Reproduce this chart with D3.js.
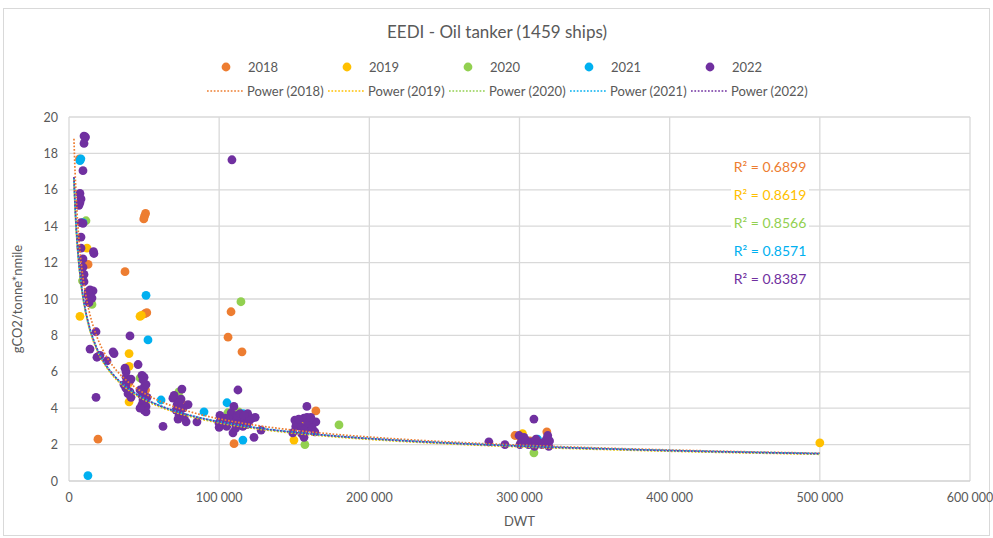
<!DOCTYPE html>
<html>
<head>
<meta charset="utf-8">
<script src="https://cdnjs.cloudflare.com/ajax/libs/d3/7.8.5/d3.min.js"></script>
<style>
  body { margin: 0; background: #fff; }
  svg text { font-family: Lato, "Open Sans", sans-serif; fill: #595959; }
</style>
</head>
<body>
<div id="chart"></div>
<script>
const years = ["2018", "2019", "2020", "2021", "2022"];
const colors = ["#ED7D31", "#FFC000", "#92D050", "#00B0F0", "#7030A0"];
const rSquared = ["0.6899", "0.8619", "0.8566", "0.8571", "0.8387"];
// power trendline y = a * x^b
const trendA = [1080, 830, 820, 800, 816];
const trendB = [-0.5, -0.483, -0.481, -0.478, -0.48];
const trendRange = [3300, 500000];
const xTicks = [0, 100000, 200000, 300000, 400000, 500000, 600000];
const yTicks = [0, 2, 4, 6, 8, 10, 12, 14, 16, 18, 20];

// [DWT, EEDI]
const s2018 = [[51000,14.7],[50300,14.55],[49800,14.4],[37300,11.5],[12700,11.9],[50600,9.2],[51800,9.25],
  [107900,9.3],[105900,7.9],[115200,7.1],[19300,2.3],[109900,2.05],[164400,3.85],[297000,2.5],[318200,2.7],
  [7000,17.7],[300500,2.4],[51000,5.0],[40000,5.4],[75000,4.3],[110000,3.6],[155000,3.0],[307000,2.2]];
const s2019 = [[7300,9.05],[12000,12.8],[47300,9.05],[48200,9.1],[40000,7.0],[40000,6.3],[40000,4.35],
  [302000,2.6],[149800,2.25],[500000,2.1],[39000,5.3],[74000,3.5],[112000,3.2],[310000,2.2],[158000,3.3]];
const s2020 = [[114500,9.85],[11300,14.3],[15300,9.7],[179800,3.08],[157100,2.0],[309600,1.55],[73200,4.9],
  [74000,4.55],[47300,5.66],[105800,3.75],[113000,3.8],[301000,2.1],[9000,11.0]];
const s2021 = [[7300,17.6],[7900,17.7],[9300,14.2],[51300,10.2],[52600,7.75],[12600,0.3],[61300,4.45],
  [89900,3.8],[105200,4.3],[115800,2.25],[116000,3.7],[312000,2.3],[160000,3.1],[73000,4.0]];
const s2022 = [[10000,18.95],[11000,18.9],[10000,18.55],[9300,17.05],[7300,15.8],[8000,15.5],[7300,15.3],
  [6600,15.15],[8000,14.2],[9300,14.15],[8000,13.4],[8000,12.8],[16600,12.5],[16300,12.6],[9300,12.2],
  [9300,11.75],[10000,11.35],[10000,10.95],[14000,10.5],[16000,10.45],[12600,10.2],[15300,10.05],[12700,10.4],
  [13300,9.8],[18000,8.2],[14000,7.25],[18600,6.8],[20600,6.9],[30000,7.0],[29300,7.1],[25300,6.6],[18000,4.6],
  [40600,7.97],[46000,6.4],
  [37300,6.2],[38000,5.7],[38600,5.4],[37900,5.1],[39300,4.8],[40000,5.5],[41300,5.6],[40600,4.9],[41300,4.6],
  [36600,5.3],[38000,6.0],
  [48600,4.7],[49300,4.45],[48600,4.2],[50000,3.9],[49300,5.55],[50000,5.15],[50000,5.7],[51300,3.8],[51300,4.1],
  [49300,4.95],[51300,5.3],[48600,5.8],[50600,4.3],[47300,5.0],[47300,4.0],[52000,4.6],
  [62600,3.0],
  [75200,5.05],[69200,4.55],[72000,4.2],[74000,3.9],[73300,3.6],[72600,3.4],[78000,3.25],[79300,4.2],[70000,4.7],
  [74600,4.5],[76000,4.0],[73300,4.3],[71300,3.9],[76600,3.5],
  [85200,3.25],[100500,3.6],[99800,3.2],[100000,2.95],
  [112500,5.0],[109800,4.1],[107900,3.5],[111900,3.35],[115200,3.5],[115800,3.0],[109200,2.65],[118500,3.1],
  [121900,3.45],[123200,2.4],[127900,2.8],[102600,3.2],[105000,3.0],[108000,3.75],[110000,3.2],[112000,3.6],
  [114000,3.7],[117000,3.3],[119000,3.7],[106000,3.4],[111000,2.9],[113500,3.1],[116500,3.6],[108500,17.65],
  [104000,3.45],[120000,3.3],[124000,3.5],
  [158400,4.1],[150400,3.35],[151000,3.0],[149000,2.65],[156500,3.45],[158500,3.5],[155000,2.95],[156500,2.4],
  [164400,3.25],[163700,2.7],[152000,3.2],[160000,3.0],[157000,2.8],[153000,3.4],[159000,3.2],[161000,3.5],
  [155000,2.6],[162000,2.9],
  [309600,3.4],[279600,2.15],[290300,2.0],[299700,2.5],[300300,2.0],[308300,2.15],[313500,2.1],[316800,2.15],
  [319500,1.9],[318800,2.5],[304300,2.25],[302000,2.3],[306000,2.0],[311000,2.3],[315000,2.0],[320000,2.2],
  [301000,2.1],[310000,1.9],[318000,2.3],[303000,2.4]];
const series = [s2018, s2019, s2020, s2021, s2022];

const W = 993, H = 538;
const svg = d3.select("#chart").append("svg").attr("width", W).attr("height", H);

svg.append("rect")
  .attr("x", 3.5).attr("y", 8.5).attr("width", 986).attr("height", 527)
  .attr("fill", "#fff").attr("stroke", "#D9D9D9");

const x = d3.scaleLinear().domain([0, 600000]).range([69, 970]);
const y = d3.scaleLinear().domain([0, 20]).range([481, 117]);
const fmt = d => d3.format(",")(d).replace(/,/g, " ");

// gridlines
svg.append("g").selectAll("line").data(yTicks.slice(1)).enter().append("line")
  .attr("x1", x(0)).attr("x2", x(600000))
  .attr("y1", d => y(d)).attr("y2", d => y(d))
  .attr("stroke", "#D9D9D9").attr("stroke-width", 1.3);
svg.append("g").selectAll("line").data(xTicks.slice(1)).enter().append("line")
  .attr("x1", d => x(d)).attr("x2", d => x(d))
  .attr("y1", y(0)).attr("y2", y(20))
  .attr("stroke", "#D9D9D9").attr("stroke-width", 1.3);
svg.append("line").attr("x1", x(0)).attr("x2", x(0)).attr("y1", y(0)).attr("y2", y(20))
  .attr("stroke", "#D9D9D9").attr("stroke-width", 1.3);
svg.append("line").attr("x1", x(0)).attr("x2", x(600000)).attr("y1", y(0)).attr("y2", y(0))
  .attr("stroke", "#D0D0D0").attr("stroke-width", 1.3);

// tick labels
svg.append("g").selectAll("text").data(yTicks).enter().append("text")
  .attr("x", 58).attr("y", d => y(d) + 4.5)
  .attr("text-anchor", "end").attr("font-size", 12.5)
  .text(d => d);
svg.append("g").selectAll("text").data(xTicks).enter().append("text")
  .attr("x", d => x(d)).attr("y", 502)
  .attr("text-anchor", "middle").attr("font-size", 12.5)
  .text(d => fmt(d));

// axis titles
svg.append("text").attr("x", x(300000)).attr("y", 526)
  .attr("text-anchor", "middle").attr("font-size", 13).text("DWT");
svg.append("text").attr("transform", "translate(22,299) rotate(-90)")
  .attr("text-anchor", "middle").attr("font-size", 13).text("gCO2/tonne*nmile");

// title
svg.append("text").attr("x", 497).attr("y", 38)
  .attr("text-anchor", "middle").attr("font-size", 17).text("EEDI - Oil tanker (1459 ships)");

// points
series.forEach((s, i) => {
  svg.append("g").selectAll("circle").data(s).enter().append("circle")
    .attr("cx", d => x(d[0])).attr("cy", d => y(d[1]))
    .attr("r", 4.4)
    .attr("fill", colors[i]);
});

// trendlines
const trendX = d3.range(0, 201).map(k => trendRange[0] * Math.pow(trendRange[1] / trendRange[0], k / 200));
const line = d3.line().x(d => x(d[0])).y(d => y(d[1]));
series.forEach((s, i) => {
  svg.append("path")
    .datum(trendX.map(v => [v, trendA[i] * Math.pow(v, trendB[i])]))
    .attr("d", line)
    .attr("fill", "none")
    .attr("stroke", colors[i])
    .attr("stroke-width", 1.7)
    .attr("stroke-dasharray", "1.7,1.7");
});

// R² labels
const rY = [167, 195, 223, 251, 279];
rSquared.forEach((r, i) => {
  svg.append("rect").attr("x", 731).attr("y", rY[i] - 9).attr("width", 78).attr("height", 18).attr("fill", "#fff");
  svg.append("text").attr("x", 770).attr("y", rY[i] + 5)
    .attr("text-anchor", "middle").attr("font-size", 14)
    .style("fill", colors[i]).text("R\u00B2 = " + r);
});

// legend
const leg = svg.append("g");
years.forEach((yr, i) => {
  const lx = 226 + i * 121;
  leg.append("circle").attr("cx", lx).attr("cy", 67).attr("r", 4.4).attr("fill", colors[i]);
  leg.append("text").attr("x", lx + 22).attr("y", 72).attr("font-size", 13).text(yr);
  const px = 207 + i * 121;
  leg.append("line").attr("x1", px).attr("x2", px + 36).attr("y1", 91).attr("y2", 91)
    .attr("stroke", colors[i]).attr("stroke-width", 1.7).attr("stroke-dasharray", "1.7,1.7");
  leg.append("text").attr("x", px + 40).attr("y", 96).attr("font-size", 13).text("Power (" + yr + ")");
});
</script>
</body>
</html>
